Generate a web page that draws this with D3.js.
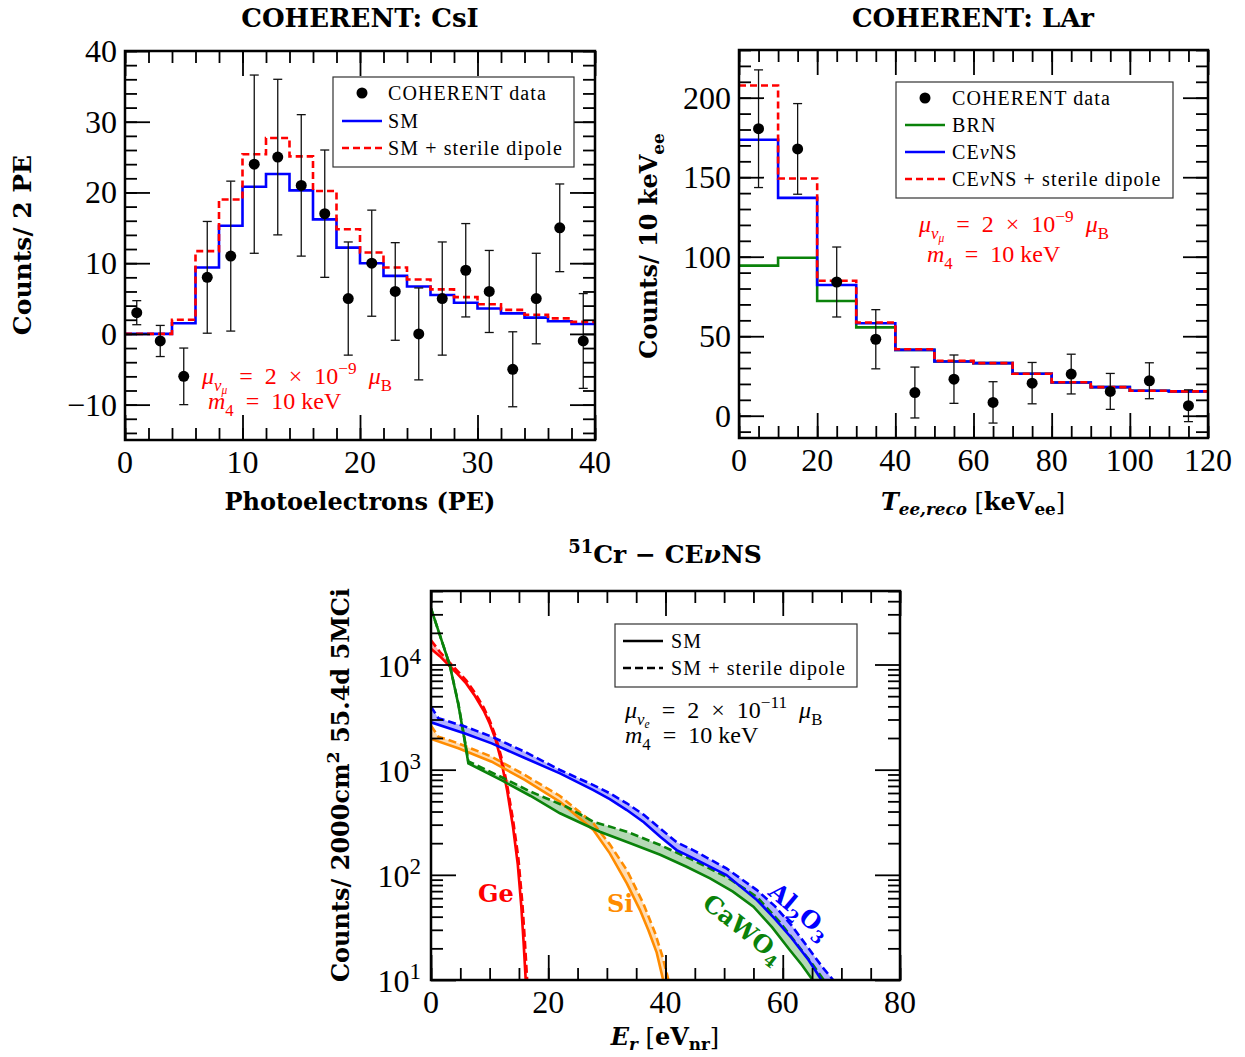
<!DOCTYPE html>
<html>
<head>
<meta charset="utf-8">
<title>COHERENT / 51Cr sterile dipole</title>
<script src="https://cdn.jsdelivr.net/npm/d3@7/dist/d3.min.js"></script>
<style>
  body { margin: 0; background: #fff; }
  svg { display: block; }
</style>
</head>
<body>
<div id="chart"></div>
<script>
// ---------- COHERENT CsI (counts / 2 PE) ----------
const csiEdges  = [0,2,4,6,8,10,12,14,16,18,20,22,24,26,28,30,32,34,36,38,40];
const csiSM     = [0,0,1.5,9.4,15.3,20.8,22.6,20.3,16.2,12.2,10.0,8.2,6.7,5.5,4.4,3.6,2.9,2.3,1.8,1.4];
const csiDipole = [0,0,2.0,11.7,19.0,25.4,27.7,25.1,20.2,14.8,11.5,9.4,7.7,6.3,5.2,4.2,3.4,2.7,2.2,1.7];
const csiDataX  = [1,3,5,7,9,11,13,15,17,19,21,23,25,27,29,31,33,35,37,39];
const csiDataY  = [3,-1,-6,8,11,24,25,21,17,5,10,6,0,5,9,6,-5,5,15,-1];
const csiDataErr= [1.7,2.2,4,7.9,10.6,12.6,11,10,9,8,7.5,6.9,6.5,8,6.6,5.8,5.3,6.4,6.2,6.7];
const csiXTicks = [0,10,20,30,40];
const csiYTicks = [-10,0,10,20,30,40];

// ---------- COHERENT LAr (counts / 10 keVee) ----------
const larEdges  = [0,10,20,30,40,50,60,70,80,90,100,110,120];
const larBRN    = [94.4,99.4,72.2,55.6,41.4,34.1,33.1,26.4,20.9,18.0,15.7,15.3];
const larCEvNS  = [173.6,137,82.2,58.2,41.4,34.1,33.1,26.4,20.9,18.0,15.7,15.3];
const larDipole = [207.7,149.2,84.9,58.6,41.8,34.5,33.1,26.4,21.1,18.0,15.7,15.3];
const larDataX  = [5,15,25,35,45,55,65,75,85,95,105,115];
const larDataY  = [180.5,167.8,84.1,48.1,14.6,23.0,8.4,20.5,26.2,15.3,22.0,6.3];
const larDataErr= [37,28.5,22,18.6,16,15.2,13,13,12.5,11.3,11.3,10];
const larXTicks = [0,20,40,60,80,100,120];
const larYTicks = [0,50,100,150,200];

// ---------- 51Cr CEvNS spectra (counts / 2000cm2 55.4d 5MCi) ----------
const geSmE   = [0,1.5,3,4.5,6,7.5,9,10,11,12,13,14,14.8,15.4,15.8,16.15];
const geSmN   = [14100,12000,9890,8130,6610,5010,3630,2750,1950,1200,631,282,126,50,22.4,10];
const geDipE  = [0,1.5,3,4.5,6,7.5,9,10,11,12,13,14,14.9,15.6,16.0,16.4];
const geDipN  = [17000,13200,10700,8710,7080,5370,3890,2950,2090,1320,708,331,145,52.5,24,10];

const siSmE   = [0,4.66,10.35,16,22,27.7,30.5,33.4,35.65,37.1,38.5,39.6];
const siSmN   = [1960,1600,1190,798,495,267,160,83,46.2,29.5,18.2,10];
const siDipE  = [0,1.25,4.66,10.35,16,22,27.7,30.5,33.4,36.2,38.2,39.5,40.5];
const siDipN  = [2620,2060,1780,1330,891,562,309,195,111,53.7,28.2,16.6,10];

const caSmE   = [0,1.5,3.2,4.66,5.7,6.37,12,17,22,28.8,34,39.1,43.5,47.6,51.5,55.0,58.2,61.2,63.3,65.1];
const caSmN   = [34200,19100,9890,4170,1950,1150,794,562,385,257,200,155,120,92.7,69.2,49.8,31.6,19.3,13.8,10];
const caDipE  = [0,1.5,3.2,4.66,5.7,6.37,12,17,23.1,27.7,33.4,39.1,44.7,50.4,55.6,59.5,63.2,65.2,67.0];
const caDipN  = [34200,19100,9890,4270,2000,1200,851,617,444,320,257,192,138,95.5,61.7,35.5,19.3,13.8,10];

const alSmE   = [0,5.8,10.35,16,22,27.7,30.5,33.4,36.3,39.1,41.9,44.7,50.4,55.6,58.7,61.5,64.4,66.6];
const alSmN   = [2820,2210,1780,1290,923,640,525,413,316,230,172,144,99.5,57.5,38.0,25.1,15.5,10];
const alDipE  = [0,1.25,5.8,10.35,16,22,27.7,30.5,33.4,36.3,39.1,41.9,44.7,50.4,55.6,58.7,61.5,64.4,66.8,68.6];
const alDipN  = [3980,3090,2570,2060,1480,993,713,596,479,372,276,204,172,115,71.6,50.1,33.1,20.0,13.2,10];

const crXTicks = [0,20,40,60,80];
const crYTicks = [10,100,1000,10000];

// ---------- colours & fonts ----------
const BLUE = "#0000ff", RED = "#ff0000", GREEN = "#0a820a", ORANGE = "#ff8c00";
const SERIF = "'Liberation Serif', 'Times New Roman', serif";
const BOLD = "'DejaVu Serif', serif";
const SP = "\u2002"; // wide space round math operators

const svg = d3.select("#chart").append("svg")
  .attr("width", 1245).attr("height", 1057)
  .style("font-family", SERIF);

// text with sub/superscripts, parts = [[text, "it bf rm sub sub2 sup"], ...]
function rich(g, x, y, parts, o = {}) {
  const fs = o.size || 20;
  const t = g.append("text")
    .attr("x", x).attr("y", y)
    .attr("font-size", fs)
    .attr("font-family", o.family || SERIF)
    .attr("font-weight", o.bold ? "bold" : "normal")
    .attr("text-anchor", o.anchor || "start")
    .attr("fill", o.color || "#000");
  if (o.spacing) t.attr("letter-spacing", o.spacing);
  if (o.rotate) t.attr("transform", `rotate(${o.rotate},${x},${y})`);
  let shift = 0;
  const subShift = o.subShift || 0.28;
  parts.forEach(([txt, st = ""]) => {
    const f = st.split(" ");
    let target = 0, size = fs;
    if (f.includes("sub")) { target = fs * subShift; size = fs * 0.7; }
    if (f.includes("sub2")) { target = fs * 0.4; size = fs * 0.48; }
    if (f.includes("sup")) { target = -fs * 0.4; size = fs * 0.72; }
    const ts = t.append("tspan")
      .attr("dy", (target - shift).toFixed(2))
      .attr("font-size", size)
      .text(txt);
    if (f.includes("it")) ts.attr("font-style", "italic");
    if (f.includes("bf")) ts.attr("font-weight", "bold");
    if (f.includes("rm")) ts.attr("font-weight", "normal");
    shift = target;
  });
  return t;
}

// inward ticks on all four sides + frame
function frame(g, x, y, xMaj, xMin, yMaj, yMin) {
  const [xl, xr] = x.range(), [yb, yt] = y.range();
  const put = (axis, tx, ty, vals, len) => g.append("g")
    .attr("transform", `translate(${tx},${ty})`)
    .call(axis.tickValues(vals).tickSize(-len).tickFormat(""))
    .call(a => a.select(".domain").remove())
    .call(a => a.selectAll("line").attr("stroke", "#000").attr("stroke-width", 1.8));
  [[xMaj, 25], [xMin, 12]].forEach(([v, len]) => {
    put(d3.axisBottom(x), 0, yb, v, len);
    put(d3.axisTop(x), 0, yt, v, len);
  });
  [[yMaj, 25], [yMin, 12]].forEach(([v, len]) => {
    put(d3.axisLeft(y), xl, 0, v, len);
    put(d3.axisRight(y), xr, 0, v, len);
  });
  g.append("rect")
    .attr("x", xl).attr("y", yt)
    .attr("width", xr - xl).attr("height", yb - yt)
    .attr("fill", "none").attr("stroke", "#000").attr("stroke-width", 2.5);
}

function tickLabels(g, x, y, xVals, yVals, linearY) {
  const [xl] = x.range(), [yb] = y.range();
  g.selectAll("text.xl").data(xVals).join("text")
    .attr("class", "xl")
    .attr("x", d => x(d)).attr("y", yb + 33)
    .attr("text-anchor", "middle").attr("font-size", 32)
    .text(d => d3.format("d")(d));
  if (linearY) {
    g.selectAll("text.yl").data(yVals).join("text")
      .attr("class", "yl")
      .attr("x", xl - 8).attr("y", d => y(d) + 11)
      .attr("text-anchor", "end").attr("font-size", 32)
      .text(d => d3.format("d")(d));
  }
}

function clip(id, x, y) {
  const [xl, xr] = x.range(), [yb, yt] = y.range();
  svg.append("clipPath").attr("id", id).append("rect")
    .attr("x", xl).attr("y", yt).attr("width", xr - xl).attr("height", yb - yt);
}

const steps = (edges, vals) => edges.map((e, i) => [e, vals[Math.min(i, vals.length - 1)]]);

function stepPath(g, x, y, edges, vals, color, dash) {
  const line = d3.line().x(d => x(d[0])).y(d => y(d[1])).curve(d3.curveStepAfter);
  g.append("path").datum(steps(edges, vals))
    .attr("d", line).attr("fill", "none")
    .attr("stroke", color).attr("stroke-width", 2.6)
    .attr("stroke-dasharray", dash || null);
}

function dataPoints(g, x, y, xs, ys, errs) {
  const pts = xs.map((v, i) => ({ x: v, y: ys[i], e: errs[i] }));
  const eb = g.append("g").attr("stroke", "#111").attr("stroke-width", 1.3);
  eb.selectAll("line.v").data(pts).join("line")
    .attr("x1", d => x(d.x)).attr("x2", d => x(d.x))
    .attr("y1", d => y(d.y - d.e)).attr("y2", d => y(d.y + d.e));
  [-1, 1].forEach(s => {
    eb.selectAll(`line.c${s}`).data(pts).join("line")
      .attr("x1", d => x(d.x) - 4.5).attr("x2", d => x(d.x) + 4.5)
      .attr("y1", d => y(d.y + s * d.e)).attr("y2", d => y(d.y + s * d.e));
  });
  g.selectAll("circle.pt").data(pts).join("circle")
    .attr("class", "pt")
    .attr("cx", d => x(d.x)).attr("cy", d => y(d.y)).attr("r", 5.5)
    .attr("fill", "#000");
}

function legend(g, box, rows) {
  g.append("rect")
    .attr("x", box[0]).attr("y", box[1]).attr("width", box[2] - box[0]).attr("height", box[3] - box[1])
    .attr("fill", "#fff").attr("stroke", "#333").attr("stroke-width", 1.2);
  rows.forEach(r => {
    if (r.dot) {
      g.append("circle").attr("cx", r.mx).attr("cy", r.y).attr("r", 5.5).attr("fill", "#000");
    } else {
      g.append("line").attr("x1", r.mx - 20).attr("x2", r.mx + 20).attr("y1", r.y).attr("y2", r.y)
        .attr("stroke", r.color).attr("stroke-width", 2.6).attr("stroke-dasharray", r.dash || null);
    }
    rich(g, r.tx, r.y + 6.5, r.parts, { size: 20, spacing: 1.1 });
  });
}

const muLine = (sub, exp) => [["μ", "it"], ["ν", "it sub"], [sub, "it sub2"],
  [SP + "=" + SP + "2" + SP + "×" + SP + "10", ""], [exp, "sup"], [SP, ""], ["μ", "it"], ["B", "sub"]];
const m4Line = [["m", "it"], ["4", "sub"], [SP + "=" + SP + "10 keV", ""]];

// ================= Panel 1: CsI =================
{
  const x = d3.scaleLinear().domain([0, 40]).range([125, 595]);
  const y = d3.scaleLinear().domain([-15, 40]).range([440, 51]);
  const g = svg.append("g");
  clip("c1", x, y);
  const pg = g.append("g").attr("clip-path", "url(#c1)");
  stepPath(pg, x, y, csiEdges, csiSM, BLUE);
  stepPath(pg, x, y, csiEdges, csiDipole, RED, "7,4");
  dataPoints(pg, x, y, csiDataX, csiDataY, csiDataErr);
  frame(g, x, y, csiXTicks, d3.range(0, 41, 2), csiYTicks, d3.range(-14, 41, 2));
  tickLabels(g, x, y, csiXTicks, csiYTicks, true);
  legend(g, [333, 77, 574, 167], [
    { dot: true, mx: 362, tx: 388, y: 93, parts: [["COHERENT data"]] },
    { color: BLUE, mx: 362, tx: 388, y: 121, parts: [["SM"]] },
    { color: RED, dash: "7,4", mx: 362, tx: 388, y: 148, parts: [["SM + sterile dipole"]] }
  ]);
  rich(g, 202, 384, muLine("μ", "−9"), { size: 24, color: RED });
  rich(g, 208, 409, m4Line, { size: 24, color: RED });
  rich(g, 360, 27, [["COHERENT: CsI"]], { size: 26, family: BOLD, bold: true, anchor: "middle" });
  rich(g, 360, 510, [["Photoelectrons (PE)"]], { size: 24, family: BOLD, bold: true, anchor: "middle" });
  rich(g, 31, 245, [["Counts/ 2 PE"]], { size: 25, family: BOLD, bold: true, anchor: "middle", rotate: -90 });
}

// ================= Panel 2: LAr =================
{
  const x = d3.scaleLinear().domain([0, 120]).range([739, 1208]);
  const y = d3.scaleLinear().domain([-14, 230]).range([438, 50]);
  const g = svg.append("g");
  clip("c2", x, y);
  const pg = g.append("g").attr("clip-path", "url(#c2)");
  stepPath(pg, x, y, larEdges, larBRN, GREEN);
  stepPath(pg, x, y, larEdges, larCEvNS, BLUE);
  stepPath(pg, x, y, larEdges, larDipole, RED, "7,4");
  dataPoints(pg, x, y, larDataX, larDataY, larDataErr);
  frame(g, x, y, larXTicks, d3.range(0, 121, 5), larYTicks, d3.range(-10, 231, 10));
  tickLabels(g, x, y, larXTicks, larYTicks, true);
  legend(g, [896, 82, 1173, 198], [
    { dot: true, mx: 925, tx: 952, y: 98, parts: [["COHERENT data"]] },
    { color: GREEN, mx: 925, tx: 952, y: 125, parts: [["BRN"]] },
    { color: BLUE, mx: 925, tx: 952, y: 152, parts: [["CE"], ["ν", "it"], ["NS"]] },
    { color: RED, dash: "7,4", mx: 925, tx: 952, y: 179, parts: [["CE"], ["ν", "it"], ["NS + sterile dipole"]] }
  ]);
  rich(g, 919, 232, muLine("μ", "−9"), { size: 24, color: RED });
  rich(g, 927, 262, m4Line, { size: 24, color: RED });
  rich(g, 973, 27, [["COHERENT: LAr"]], { size: 26, family: BOLD, bold: true, anchor: "middle" });
  rich(g, 973, 510, [["T", "it"], ["ee,reco", "it sub"], [" [", "rm"], ["keV"], ["ee", "sub"], ["]", "rm"]],
    { size: 24, family: BOLD, bold: true, anchor: "middle", subShift: 0.22 });
  rich(g, 657, 246, [["Counts/ 10 keV"], ["ee", "sub"]], { size: 24, family: BOLD, bold: true, anchor: "middle", rotate: -90 });
}

// ================= Panel 3: 51Cr =================
{
  const x = d3.scaleLinear().domain([0, 80]).range([431, 900]);
  const y = d3.scaleLog().domain([10, 5e4]).range([980, 591]);
  const g = svg.append("g");
  clip("c3", x, y);
  const pg = g.append("g").attr("clip-path", "url(#c3)");
  const line = d3.line().x(d => x(d[0])).y(d => y(d[1]));
  const zip = (es, ns) => es.map((e, i) => [e, ns[i]]);
  const mats = [
    { c: RED, sm: zip(geSmE, geSmN), dip: zip(geDipE, geDipN) },
    { c: ORANGE, sm: zip(siSmE, siSmN), dip: zip(siDipE, siDipN) },
    { c: GREEN, sm: zip(caSmE, caSmN), dip: zip(caDipE, caDipN) },
    { c: BLUE, sm: zip(alSmE, alSmN), dip: zip(alDipE, alDipN) }
  ];
  // shaded band between SM and dipole curves
  mats.forEach(m => {
    pg.append("path").datum(m.sm.concat(m.dip.slice().reverse()))
      .attr("d", d => line(d) + "Z")
      .attr("fill", m.c).attr("fill-opacity", 0.3).attr("stroke", "none");
  });
  mats.forEach(m => {
    pg.append("path").datum(m.sm).attr("d", line)
      .attr("fill", "none").attr("stroke", m.c).attr("stroke-width", 2.6);
    pg.append("path").datum(m.dip).attr("d", line)
      .attr("fill", "none").attr("stroke", m.c).attr("stroke-width", 2.6).attr("stroke-dasharray", "8,4");
  });
  const logMinor = [];
  crYTicks.forEach(d => [2,3,4,5,6,7,8,9].forEach(k => { if (d * k <= 5e4) logMinor.push(d * k); }));
  frame(g, x, y, crXTicks, d3.range(0, 81, 5), crYTicks, logMinor);
  tickLabels(g, x, y, crXTicks, crYTicks, false);
  crYTicks.forEach(v => {
    rich(g, 421, y(v) + 12, [["10"], [String(Math.round(Math.log10(v))), "sup"]], { size: 32, anchor: "end" });
  });
  legend(g, [615, 624, 857, 687], [
    { color: "#000", mx: 643, tx: 671, y: 641, parts: [["SM"]] },
    { color: "#000", dash: "8,4", mx: 643, tx: 671, y: 668, parts: [["SM + sterile dipole"]] }
  ]);
  rich(g, 625, 718, muLine("e", "−11"), { size: 24 });
  rich(g, 625, 743, m4Line, { size: 24 });
  rich(g, 478, 902, [["Ge"]], { size: 24, family: BOLD, bold: true, color: RED });
  rich(g, 607, 912, [["Si"]], { size: 24, family: BOLD, bold: true, color: ORANGE });
  rich(g, 701, 906, [["CaWO"], ["4", "sub"]], { size: 24, family: BOLD, bold: true, color: GREEN, rotate: 38 });
  rich(g, 767, 894, [["Al"], ["2", "sub"], ["O"], ["3", "sub"]], { size: 24, family: BOLD, bold: true, color: BLUE, rotate: 40 });
  rich(g, 665, 563, [["51", "sup"], ["Cr − CE"], ["ν", "it"], ["NS"]], { size: 25, family: BOLD, bold: true, anchor: "middle" });
  rich(g, 665, 1045, [["E", "it"], ["r", "it sub"], [" [", "rm"], ["eV"], ["nr", "sub"], ["]", "rm"]],
    { size: 24, family: BOLD, bold: true, anchor: "middle", subShift: 0.2 });
  rich(g, 349, 785, [["Counts/ 2000cm"], ["2", "sup"], [" 55.4d 5MCi"]], { size: 24, family: BOLD, bold: true, anchor: "middle", rotate: -90 });
}
</script>
</body>
</html>
